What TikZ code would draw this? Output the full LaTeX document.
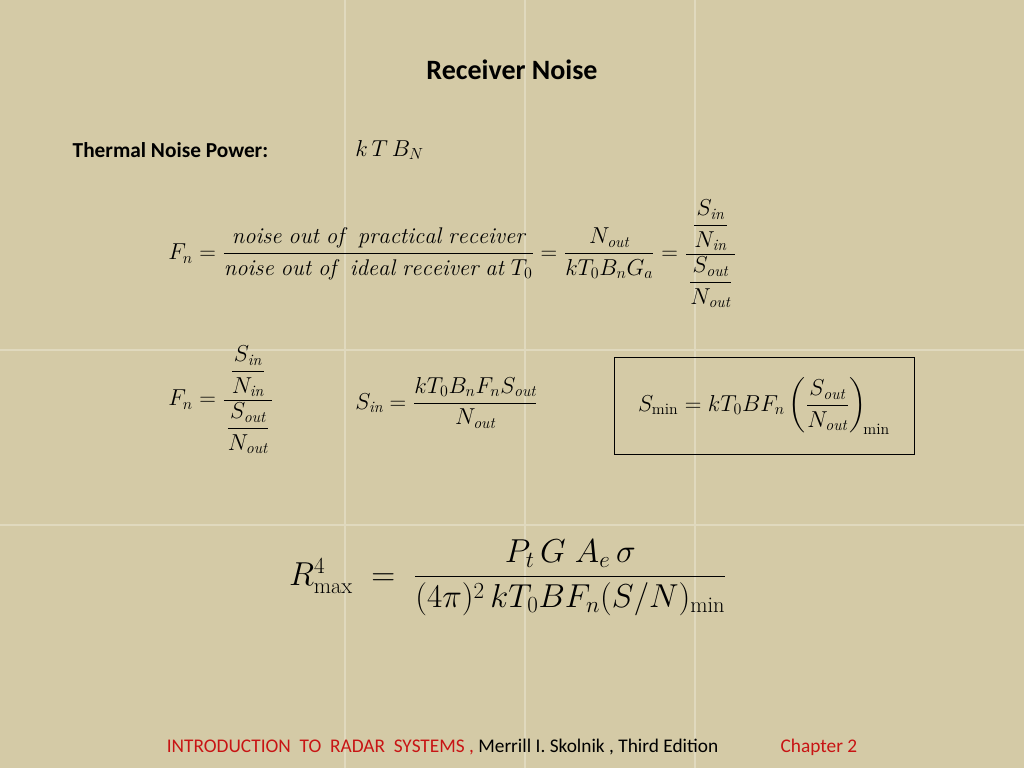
\documentclass[tikz,border=0pt]{standalone}
\usepackage{amsmath}
\usepackage{fontspec}
\newfontfamily\calfont{Carlito}
\definecolor{bg}{RGB}{212,202,166}
\definecolor{grid}{RGB}{224,217,190}
\definecolor{redt}{RGB}{200,20,20}
\tikzset{eq/.style={inner sep=0pt,font=\fontsize{17}{20}\selectfont}}
\begin{document}
\begin{tikzpicture}[x=0.75pt,y=-0.75pt]
\fill[bg] (0,0) rectangle (1024,768);
\useasboundingbox (0,0) rectangle (1024,768);
\foreach \x in {345,525,695} \draw[grid,line width=1pt] (\x,0) -- (\x,768);
\foreach \y in {350,525} \draw[grid,line width=1pt] (0,\y) -- (1024,\y);
\node[font=\calfont\bfseries\fontsize{21}{25}\selectfont] (title) at (512,70) {Receiver Noise};
\node[font=\calfont\bfseries\fontsize{16}{19}\selectfont,anchor=west] (tnp) at (68,150) {Thermal Noise Power:};
\node[eq,anchor=west] (ktb) at (355,150) {$k\,T\,B_N$};
\node[eq,anchor=west] (fn1) at (168,254) {$F_n=\dfrac{\mathit{noise\ out\ of\ \ practical\ receiver}}{\mathit{noise\ out\ of\ \ ideal\ receiver\ at\ }T_0}=\dfrac{N_{\mathit{out}}}{kT_0B_nG_a}=$};
\node[eq,anchor=west] (sn) at (fn1.east) {$\;\dfrac{\;\dfrac{S_{\mathit{in}}}{N_{\mathit{in}}}\;}{\dfrac{S_{\mathit{out}}}{N_{\mathit{out}}}}$};
\node[eq,anchor=west] (fn2) at (168,400) {$F_n=\dfrac{\;\dfrac{S_{\mathit{in}}}{N_{\mathit{in}}}\;}{\dfrac{S_{\mathit{out}}}{N_{\mathit{out}}}}$};
\node[eq,anchor=west] (sin) at (355,403) {$S_{\mathit{in}}=\dfrac{kT_0B_nF_nS_{\mathit{out}}}{N_{\mathit{out}}}$};
\node[eq,draw,line width=0.6pt,inner sep=6pt,minimum width=225pt,minimum height=73pt] (smin) at (764,406) {$S_{\min}=kT_0BF_n\left(\dfrac{S_{\mathit{out}}}{N_{\mathit{out}}}\right)_{\!\min}$};
\node[eq,font=\fontsize{24}{28}\selectfont] (rmax) at (508,578) {$R^{4}_{\max}\;=\;\dfrac{P_t\,G\;A_e\,\sigma}{(4\pi)^2\,kT_0BF_n(S/N)_{\min}}$};
\node[font=\calfont\fontsize{14.5}{17}\selectfont] (foot) at (512,747) {\textcolor{redt}{INTRODUCTION\ \ TO\ \ RADAR\ \ SYSTEMS ,} Merrill I. Skolnik , Third Edition \hspace{3em}\textcolor{redt}{Chapter 2}};
\end{tikzpicture}
\end{document}
